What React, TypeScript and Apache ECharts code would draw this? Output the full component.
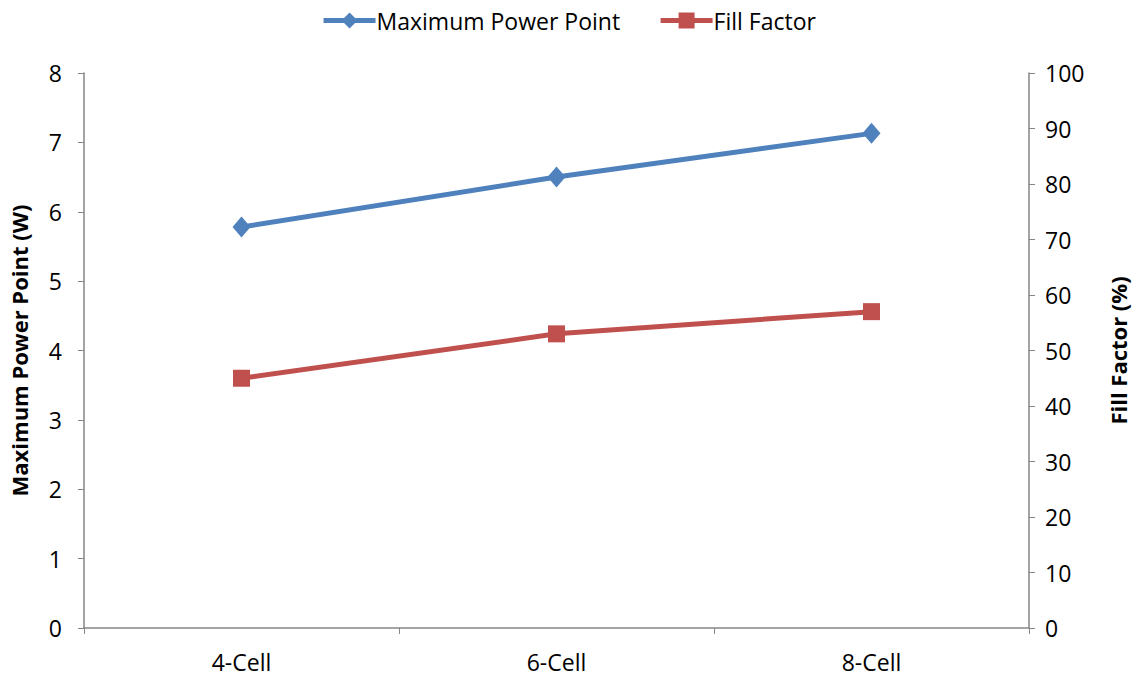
import React, { useEffect, useRef } from "react";
import * as echarts from "echarts";

// Module configurations and their measured outputs
const categories = ["4-Cell", "6-Cell", "8-Cell"];
const maxPowerPoint = [5.78, 6.5, 7.13]; // W
const fillFactor = [45, 53, 57]; // %
const leftTicks = { min: 0, max: 8, interval: 1 };
const rightTicks = { min: 0, max: 100, interval: 10 };

const FONT = "'Open Sans', Lato, 'Noto Sans', sans-serif";
const AXIS_GRAY = "#868686";
const BLUE = "#4F81BD";
const RED = "#C0504D";

export default function App() {
  const ref = useRef<HTMLDivElement>(null);

  useEffect(() => {
    if (!ref.current) return;
    const chart = echarts.init(ref.current, undefined, { renderer: "svg" });
    const axisLabel = { color: "#000", fontSize: 23, fontFamily: FONT };
    const nameStyle = { fontSize: 22, fontWeight: "bold", color: "#000", fontFamily: FONT };
    chart.setOption({
      animation: false,
      textStyle: { fontFamily: FONT },
      legend: {
        top: 4,
        left: "center",
        itemWidth: 52,
        itemHeight: 20,
        itemGap: 38,
        lineStyle: { width: 5 },
        textStyle: { color: "#000", fontSize: 23, fontFamily: FONT, padding: [0, 0, 0, -4] },
        data: ["Maximum Power Point", "Fill Factor"],
      },
      grid: {
        left: 84,
        right: 108,
        top: 73,
        bottom: 49,
        containLabel: false,
        outerBoundsMode: "none",
      },
      xAxis: {
        type: "category",
        data: categories,
        boundaryGap: true,
        axisLine: { lineStyle: { color: AXIS_GRAY, width: 1.5 } },
        axisTick: { show: true, length: 6, lineStyle: { color: AXIS_GRAY } },
        axisLabel: { ...axisLabel, margin: 22 },
        splitLine: { show: false },
      },
      yAxis: [
        {
          type: "value",
          position: "left",
          ...leftTicks,
          name: "Maximum Power Point (W)",
          nameLocation: "middle",
          nameRotate: 90,
          nameGap: 54,
          nameTextStyle: nameStyle,
          axisLine: { show: true, lineStyle: { color: AXIS_GRAY, width: 1.5 } },
          axisTick: { show: true, length: 6, lineStyle: { color: AXIS_GRAY } },
          axisLabel: { ...axisLabel, margin: 22 },
          splitLine: { show: false },
        },
        {
          type: "value",
          position: "right",
          ...rightTicks,
          name: "Fill Factor (%)",
          nameLocation: "middle",
          nameRotate: 90,
          nameGap: 78,
          nameTextStyle: nameStyle,
          axisLine: { show: true, lineStyle: { color: AXIS_GRAY, width: 1.5 } },
          axisTick: { show: true, length: 6, lineStyle: { color: AXIS_GRAY } },
          axisLabel: { ...axisLabel, margin: 16 },
          splitLine: { show: false },
        },
      ],
      series: [
        {
          name: "Maximum Power Point",
          type: "line",
          yAxisIndex: 0,
          data: maxPowerPoint,
          symbol: "diamond",
          symbolSize: [18, 21],
          lineStyle: { color: BLUE, width: 5 },
          itemStyle: { color: BLUE },
        },
        {
          name: "Fill Factor",
          type: "line",
          yAxisIndex: 1,
          data: fillFactor,
          symbol: "rect",
          symbolSize: 17,
          lineStyle: { color: RED, width: 5 },
          itemStyle: { color: RED },
        },
      ],
    });
    return () => chart.dispose();
  }, []);

  return <div ref={ref} style={{ width: 1137, height: 677, position: "absolute", left: 0, top: 0, background: "#fff" }} />;
}
